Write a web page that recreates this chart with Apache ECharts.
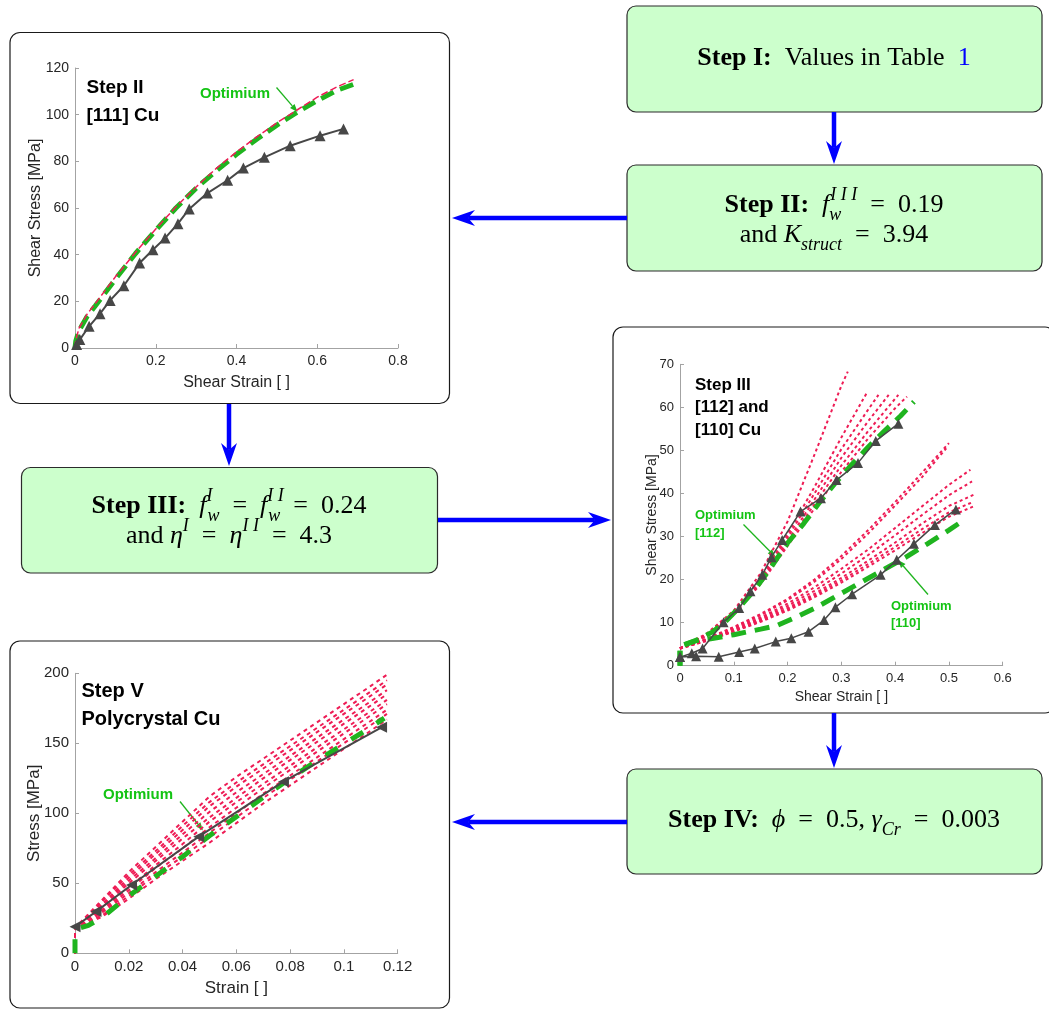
<!DOCTYPE html>
<html>
<head>
<meta charset="utf-8">
<title>Parameter calibration steps</title>
<script src="https://cdn.jsdelivr.net/npm/echarts@6/dist/echarts.min.js"></script>
<style>
  html, body { margin: 0; padding: 0; background: #fff; }
  #chart { width: 1049px; height: 1009px; }
</style>
</head>
<body>
<div id="chart"></div>
<script>
// ---- Step II: [111] Cu ----
const s2ExpStrain = [0.004, 0.012, 0.035, 0.062, 0.087, 0.121, 0.16, 0.193, 0.223, 0.255, 0.283, 0.328, 0.378, 0.417, 0.469, 0.533, 0.607, 0.665];
const s2ExpStress = [1.5, 3.6, 9.3, 14.7, 20.4, 26.7, 36.4, 42.1, 47.1, 53.3, 59.6, 66.4, 71.9, 77.1, 81.7, 86.7, 91, 93.9];
const s2FitStrain = [0, 0.002, 0.01, 0.03, 0.05, 0.1, 0.15, 0.2, 0.25, 0.3, 0.35, 0.4, 0.45, 0.5, 0.55, 0.6, 0.65, 0.69];
const s2OptStress = [0, 3, 7.5, 13.5, 18, 29.5, 40.5, 50.5, 60, 68.5, 76, 83, 89.5, 95.5, 101, 106, 110.5, 113];
const s2TrialStress = [0, 3.5, 8.5, 14.5, 19, 30.5, 41, 51, 60.5, 69, 77, 84, 90.5, 96.5, 102, 107.5, 112, 115];

// ---- Step III: [112] and [110] Cu ----
const s3Exp112Strain = [0, 0.022, 0.042, 0.081, 0.11, 0.131, 0.153, 0.17, 0.19, 0.224, 0.262, 0.291, 0.331, 0.364, 0.406];
const s3Exp112Stress = [2, 2.9, 4, 10.1, 13.4, 17.3, 21.1, 25.2, 29.2, 35.8, 38.9, 43.1, 47.1, 52.2, 56.2];
const s3Exp110Strain = [0, 0.03, 0.072, 0.11, 0.139, 0.178, 0.207, 0.239, 0.268, 0.289, 0.32, 0.373, 0.403, 0.435, 0.474, 0.513];
const s3Exp110Stress = [2, 2.2, 2.1, 3.2, 4, 5.6, 6.4, 7.9, 10.6, 13.6, 16.6, 21.1, 24.6, 28.3, 32.7, 36.3];
const s3Opt112Strain = [0, 0, 0.03, 0.06, 0.085, 0.11, 0.14, 0.17, 0.2, 0.23, 0.26, 0.29, 0.32, 0.35, 0.38, 0.41, 0.435];
const s3Opt112Stress = [0, 4.5, 5.9, 7.8, 10.3, 13.5, 17.8, 23, 28.5, 33, 38, 42.6, 46.8, 50.8, 54.5, 58, 61.3];
const s3Opt110Strain = [0, 0, 0.03, 0.06, 0.1, 0.15, 0.18, 0.22, 0.25, 0.3, 0.34, 0.38, 0.42, 0.46, 0.5, 0.53];
const s3Opt110Stress = [0, 4.5, 5.8, 6.3, 7.2, 8.5, 9.3, 11.5, 13.3, 16.8, 19.6, 22.4, 25.2, 28.3, 31.5, 34];
const s3Trial112Strain = [
  [0, 0.05, 0.1, 0.15, 0.2, 0.25, 0.3, 0.312],
  [0, 0.05, 0.1, 0.15, 0.2, 0.25, 0.3, 0.347],
  [0, 0.05, 0.1, 0.15, 0.2, 0.25, 0.3, 0.35, 0.369],
  [0, 0.05, 0.1, 0.15, 0.2, 0.25, 0.3, 0.35, 0.388],
  [0, 0.05, 0.1, 0.15, 0.2, 0.25, 0.3, 0.35, 0.406],
  [0, 0.05, 0.1, 0.15, 0.2, 0.25, 0.3, 0.35, 0.4, 0.422]
];
const s3Trial112Stress = [
  [4, 7.5, 12.8, 21.5, 33.5, 49, 65, 68.3],
  [4, 7.3, 12.5, 20.5, 30.5, 41.5, 53, 63.3],
  [4, 7.2, 12.3, 20, 29.8, 40, 50.3, 59.5, 62.9],
  [4, 7.1, 12.1, 19.6, 29, 38.6, 48.3, 56.8, 62.9],
  [4, 7, 12, 19.3, 28.4, 37.5, 46.5, 54.5, 62.9],
  [4, 6.9, 11.8, 19, 27.8, 36.5, 45, 52.8, 59.8, 62.5]
];
const s3Trial110Strain = [
  [0, 0.05, 0.1, 0.15, 0.2, 0.25, 0.3, 0.35, 0.4, 0.45, 0.5],
  [0, 0.05, 0.1, 0.15, 0.2, 0.25, 0.3, 0.35, 0.4, 0.45, 0.495],
  [0, 0.05, 0.1, 0.15, 0.2, 0.25, 0.3, 0.35, 0.4, 0.45, 0.5, 0.54],
  [0, 0.05, 0.1, 0.15, 0.2, 0.25, 0.3, 0.35, 0.4, 0.45, 0.5, 0.543],
  [0, 0.05, 0.1, 0.15, 0.2, 0.25, 0.3, 0.35, 0.4, 0.45, 0.5, 0.546],
  [0, 0.05, 0.1, 0.15, 0.2, 0.25, 0.3, 0.35, 0.4, 0.45, 0.5, 0.546],
  [0, 0.05, 0.1, 0.15, 0.2, 0.25, 0.3, 0.35, 0.4, 0.45, 0.5, 0.546]
];
const s3Trial110Stress = [
  [4, 6.3, 9, 12, 15.5, 20, 25.5, 31.5, 38, 44.8, 51.7],
  [4, 6.2, 8.8, 11.7, 15.2, 19.5, 24.8, 30.7, 37.2, 43.8, 50.5],
  [4, 6.1, 8.5, 11.2, 14.4, 18.2, 22.5, 27, 32, 37, 42, 45.5],
  [4, 6, 8.3, 10.9, 13.9, 17.4, 21.4, 25.7, 30.3, 35, 39.6, 42.8],
  [4, 5.9, 8.1, 10.6, 13.4, 16.7, 20.4, 24.4, 28.6, 33, 37.1, 39.7],
  [4, 5.8, 8, 10.4, 13.1, 16.3, 19.8, 23.6, 27.6, 31.7, 35.6, 38.1],
  [4, 5.8, 7.9, 10.2, 12.8, 15.9, 19.3, 23, 26.8, 30.8, 34.6, 37]
];

// ---- Step V: polycrystal Cu ----
const s5ExpStrain = [0, 0.0078, 0.021, 0.046, 0.0775, 0.114];
const s5ExpStress = [19, 29.8, 48.8, 83.3, 122.6, 161.4];
const s5OptStrain = [0, 0, 0.005, 0.01, 0.02, 0.03, 0.04, 0.05, 0.06, 0.07, 0.08, 0.09, 0.1, 0.11, 0.115];
const s5OptStress = [0, 17, 20, 25.5, 41, 55, 69, 84, 97.5, 111.5, 125, 137.5, 149.5, 161.5, 168];
const s5TrialStrain = [0, 0, 0.005, 0.01, 0.02, 0.03, 0.04, 0.05, 0.06, 0.07, 0.08, 0.09, 0.1, 0.11, 0.116];
const s5TrialStress = [
  [0, 18, 28, 38, 58, 76, 94, 112, 126, 139, 152, 165, 178, 191, 199],
  [0, 18, 27, 37, 56, 73, 91, 108, 122, 135, 148, 161, 174, 187, 195],
  [0, 18, 27, 35, 54, 71, 88, 105, 119, 132, 145, 158, 171, 184, 192],
  [0, 18, 26, 34, 52, 68, 85, 101, 115, 128, 141, 154, 167, 180, 188],
  [0, 18, 25, 33, 50, 66, 82, 97, 111, 125, 138, 151, 164, 177, 185],
  [0, 17, 25, 31, 47, 63, 78, 94, 108, 121, 134, 147, 160, 173, 181],
  [0, 17, 24, 30, 45, 61, 75, 90, 104, 118, 131, 144, 157, 170, 178],
  [0, 17, 23, 29, 43, 58, 72, 86, 100, 114, 127, 140, 153, 166, 174],
  [0, 17, 23, 27, 41, 56, 69, 83, 97, 111, 124, 137, 150, 163, 171],
  [0, 17, 22, 26, 39, 53, 66, 79, 93, 107, 120, 133, 146, 159, 167]
];

const SANS = "'Liberation Sans', Arial, Helvetica, sans-serif";
const SERIF = "'Liberation Serif', 'Times New Roman', serif";
const RED = '#ee1c55';
const GREEN = '#1fb41f';
const GREEN_TXT = '#14c414';
const GRAY = '#474747';
const BLUE = '#0000ff';
const AXIS = '#a3a3a3';

const pts = (xs, ys) => xs.map((x, i) => [x, ys[i]]);

function axis(gi, min, max, interval, name, labelSize, nameSize, nameGap) {
  return {
    type: 'value', gridIndex: gi, min, max, interval,
    name, nameLocation: 'middle', nameGap, nameMoveOverlap: false,
    nameTextStyle: { color: '#262626', fontSize: nameSize, fontFamily: SANS },
    axisLine: { show: true, onZero: false, lineStyle: { color: AXIS, width: 1 } },
    axisTick: { show: true, inside: true, length: 4, lineStyle: { color: AXIS } },
    axisLabel: { color: '#262626', fontSize: labelSize, fontFamily: SANS, margin: 6 },
    splitLine: { show: false }
  };
}

function curve(gi, data, color, width, dash, z) {
  return {
    type: 'line', xAxisIndex: gi, yAxisIndex: gi, data,
    symbol: 'none', silent: true, z,
    lineStyle: { color, width, type: dash }
  };
}

function expCurve(gi, data, size, rotate, width) {
  return {
    type: 'line', xAxisIndex: gi, yAxisIndex: gi, data,
    symbol: 'triangle', symbolSize: size, symbolRotate: rotate, showSymbol: true,
    silent: true, z: 5,
    itemStyle: { color: GRAY },
    lineStyle: { color: GRAY, width }
  };
}

// arrow = shaft + (optionally notched) head
function arrow(x1, y1, x2, y2, color, lw, hl, hw, notch) {
  const len = Math.hypot(x2 - x1, y2 - y1);
  const ux = (x2 - x1) / len, uy = (y2 - y1) / len;
  const px = -uy, py = ux;
  const bx = x2 - ux * hl, by = y2 - uy * hl;
  const nx = x2 - ux * hl * (1 - notch), ny = y2 - uy * hl * (1 - notch);
  return [
    { type: 'line', silent: true, shape: { x1, y1, x2: nx, y2: ny }, style: { stroke: color, lineWidth: lw } },
    { type: 'polygon', silent: true,
      shape: { points: [[x2, y2], [bx + px * hw / 2, by + py * hw / 2], [nx, ny], [bx - px * hw / 2, by - py * hw / 2]] },
      style: { fill: color } }
  ];
}

function label(x, y, text, size, color) {
  return { type: 'text', x, y, silent: true,
    style: { text, fontFamily: SANS, fontSize: size, fontWeight: 'bold', fill: color, align: 'left', verticalAlign: 'middle' } };
}

function panel(x, y, w, h) {
  return { type: 'rect', silent: true, z: -10, shape: { x, y, width: w, height: h, r: 10 },
    style: { fill: '#fff', stroke: '#1a1a1a', lineWidth: 1.2 } };
}

function stepBox(x, y, w, h) {
  return { type: 'rect', silent: true, z: -10, shape: { x, y, width: w, height: h, r: 9 },
    style: { fill: '#ccffcc', stroke: '#2b2b2b', lineWidth: 1.2 } };
}

// rich styles for the LaTeX-like step texts
const main = { fontFamily: SERIF, fontSize: 26, lineHeight: 38, fill: '#000', align: 'left' };
const mathRich = {
  r: main,
  b: Object.assign({}, main, { fontWeight: 'bold' }),
  i: Object.assign({}, main, { fontStyle: 'italic' }),
  link: Object.assign({}, main, { fill: BLUE }),
  sup: { fontFamily: SERIF, fontSize: 18, lineHeight: 22, fontStyle: 'italic', verticalAlign: 'top', fill: '#000', align: 'left' },
  sub: { fontFamily: SERIF, fontSize: 18, lineHeight: 24, fontStyle: 'italic', verticalAlign: 'bottom', fill: '#000', align: 'left' },
  supK: { fontFamily: SERIF, fontSize: 18, lineHeight: 22, fontStyle: 'italic', verticalAlign: 'top', fill: '#000', align: 'left', width: 1 },
  subK: { fontFamily: SERIF, fontSize: 18, lineHeight: 24, fontStyle: 'italic', verticalAlign: 'bottom', fill: '#000', align: 'left', width: 1 }
};

function mathLine(x, y, text) {
  return { type: 'text', x, y, silent: true,
    style: { text, rich: mathRich, align: 'center', verticalAlign: 'middle', fill: '#000' } };
}

const series = [];
// Step II
series.push(curve(0, pts(s2FitStrain, s2OptStress), GREEN, 5, [14, 7], 3));
series.push(curve(0, pts(s2FitStrain, s2TrialStress), RED, 1.5, [7, 3], 4));
series.push(expCurve(0, pts(s2ExpStrain, s2ExpStress), 11, 0, 2));
// Step III
s3Trial112Strain.forEach((xs, k) => series.push(curve(1, pts(xs, s3Trial112Stress[k]), RED, 2, [3, 3], 2)));
s3Trial110Strain.forEach((xs, k) => series.push(curve(1, pts(xs, s3Trial110Stress[k]), RED, 2, [3, 3], 2)));
series.push(curve(1, pts(s3Opt112Strain, s3Opt112Stress), GREEN, 5, [15, 9], 3));
series.push(curve(1, pts(s3Opt110Strain, s3Opt110Stress), GREEN, 5, [15, 9], 3));
series.push(expCurve(1, pts(s3Exp112Strain, s3Exp112Stress), 10, 0, 1.5));
series.push(expCurve(1, pts(s3Exp110Strain, s3Exp110Stress), 10, 0, 1.5));
// Step V
s5TrialStress.forEach(ys => series.push(curve(2, pts(s5TrialStrain, ys), RED, 2, [4, 4], 2)));
series.push(curve(2, pts(s5OptStrain, s5OptStress), GREEN, 5, [14, 16], 3));
series.push(expCurve(2, pts(s5ExpStrain, s5ExpStress), 11, 90, 2));

const graphic = [].concat(
  [
    panel(10, 32.5, 439.5, 371),
    panel(613, 327, 442, 386),
    panel(10, 641, 439.5, 367),
    stepBox(627, 6, 415, 106),
    stepBox(627, 165, 415, 106),
    stepBox(21.5, 467.5, 416, 105.5),
    stepBox(627, 769, 415, 105),
    mathLine(834, 58, '{b|Step I:}{r|  Values in Table  }{link|1}'),
    mathLine(834, 205, '{b|Step II:}{r|  }{i|f}{subK|w}{sup|I I I}{r|  =  0.19}'),
    mathLine(834, 235, '{r|and }{i|K}{sub|struct}{r|  =  3.94}'),
    mathLine(229, 506.5, '{b|Step III:}{r|  }{i|f}{supK|I}{sub|w}{r|  =  }{i|f}{supK|I I}{sub|w}{r|  =  0.24}'),
    mathLine(229, 536.5, '{r|and }{i|η}{sup|I}{r|  =  }{i|η}{sup|I I}{r|  =  4.3}'),
    mathLine(834, 820, '{b|Step IV:}{r|  }{i|ϕ}{r|  =  0.5, }{i|γ}{sub|Cr}{r|  =  0.003}'),
    label(86.5, 88, 'Step II', 19, '#000'),
    label(86.5, 116, '[111] Cu', 19, '#000'),
    label(200, 93.5, 'Optimium', 15, GREEN_TXT),
    label(695, 385, 'Step III', 17, '#000'),
    label(695, 407.5, '[112] and', 17, '#000'),
    label(695, 430, '[110] Cu', 17, '#000'),
    label(695, 515.5, 'Optimium', 13, GREEN_TXT),
    label(695, 533, '[112]', 13, GREEN_TXT),
    label(891, 606.5, 'Optimium', 13, GREEN_TXT),
    label(891, 623.5, '[110]', 13, GREEN_TXT),
    label(81.5, 691.5, 'Step V', 20, '#000'),
    label(81.5, 719, 'Polycrystal Cu', 20, '#000'),
    label(103, 795, 'Optimium', 15, GREEN_TXT)
  ],
  arrow(834, 112, 834, 164, BLUE, 4.5, 23, 16, 0.3),
  arrow(627, 218, 452, 218, BLUE, 4.5, 23, 16, 0.3),
  arrow(229, 404, 229, 466, BLUE, 4.5, 23, 16, 0.3),
  arrow(438, 520, 611, 520, BLUE, 4.5, 23, 16, 0.3),
  arrow(834, 713, 834, 768, BLUE, 4.5, 23, 16, 0.3),
  arrow(627, 822, 452, 822, BLUE, 4.5, 23, 16, 0.3),
  arrow(276.5, 87.5, 297.5, 112, GREEN, 1.3, 8, 6, 0),
  arrow(743.5, 524.5, 775.5, 557, GREEN, 1.3, 8, 6, 0),
  arrow(928, 594.5, 898, 560, GREEN, 1.3, 8, 6, 0),
  arrow(180, 801.5, 203, 830.5, GREEN, 1.3, 8, 6, 0)
);

const chart = echarts.init(document.getElementById('chart'), null, { renderer: 'canvas' });
chart.setOption({
  animation: false,
  backgroundColor: '#fff',
  grid: [
    { left: 75, top: 68, width: 323, height: 280, outerBoundsMode: 'none' },
    { left: 680, top: 364.3, width: 322.7, height: 301.4, outerBoundsMode: 'none' },
    { left: 75, top: 673.3, width: 322.7, height: 280, outerBoundsMode: 'none' }
  ],
  xAxis: [
    axis(0, 0, 0.8, 0.2, 'Shear Strain [ ]', 14, 16, 27),
    axis(1, 0, 0.6, 0.1, 'Shear Strain [ ]', 13, 14, 24),
    axis(2, 0, 0.12, 0.02, 'Strain [ ]', 15, 17, 27)
  ],
  yAxis: [
    axis(0, 0, 120, 20, 'Shear Stress [MPa]', 14, 16, 31),
    axis(1, 0, 70, 10, 'Shear Stress [MPa]', 13, 14, 21),
    axis(2, 0, 200, 50, 'Stress [MPa]', 15, 17, 32)
  ],
  series,
  graphic
});
window.addEventListener('resize', () => chart.resize());
</script>
</body>
</html>
